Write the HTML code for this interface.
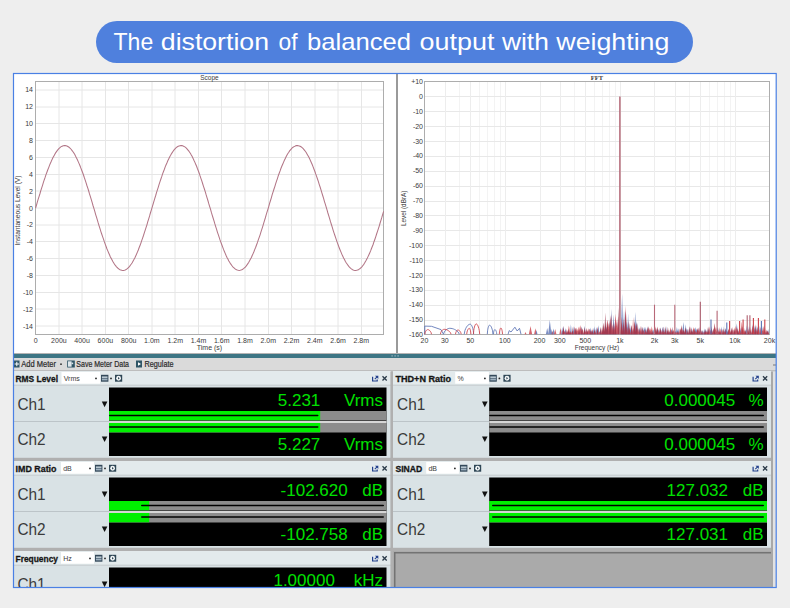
<!DOCTYPE html><html><head><meta charset="utf-8"><style>
html,body{margin:0;padding:0;width:790px;height:608px;overflow:hidden;background:#eeeeee;}
svg{display:block;font-family:"Liberation Sans", sans-serif;}
</style></head><body>
<svg width="790" height="608" viewBox="0 0 790 608">
<rect x="0" y="0" width="790" height="608" fill="#eeeeee"/>
<rect x="96" y="21" width="597" height="42" rx="21" ry="21" fill="#4f80dd"/>
<g font-size="24" fill="#ffffff">
<text x="113.5" y="50" textLength="39.7" lengthAdjust="spacingAndGlyphs">The</text>
<text x="160.8" y="50" textLength="108.2" lengthAdjust="spacingAndGlyphs">distortion</text>
<text x="278.5" y="50" textLength="19.0" lengthAdjust="spacingAndGlyphs">of</text>
<text x="307" y="50" textLength="104.0" lengthAdjust="spacingAndGlyphs">balanced</text>
<text x="419.6" y="50" textLength="74.8" lengthAdjust="spacingAndGlyphs">output</text>
<text x="502" y="50" textLength="46.8" lengthAdjust="spacingAndGlyphs">with</text>
<text x="556.3" y="50" textLength="113.1" lengthAdjust="spacingAndGlyphs">weighting</text>
</g>
<rect x="13" y="73" width="763" height="514" fill="#ffffff"/>
<path d="M35.5 326.0H383.5M35.5 309.0H383.5M35.5 292.5H383.5M35.5 275.5H383.5M35.5 258.5H383.5M35.5 241.5H383.5M35.5 225.0H383.5M35.5 208.0H383.5M35.5 191.0H383.5M35.5 174.5H383.5M35.5 157.5H383.5M35.5 140.5H383.5M35.5 123.5H383.5M35.5 107.0H383.5M35.5 90.0H383.5M59.0 81.5V334.5M82.0 81.5V334.5M105.5 81.5V334.5M128.5 81.5V334.5M152.0 81.5V334.5M175.0 81.5V334.5M198.5 81.5V334.5M221.5 81.5V334.5M245.0 81.5V334.5M268.5 81.5V334.5M291.5 81.5V334.5M315.0 81.5V334.5M338.0 81.5V334.5M361.5 81.5V334.5" stroke="#e6e6e6" stroke-width="1" fill="none"/>
<rect x="35.5" y="81.5" width="348.0" height="253.0" fill="none" stroke="#adadad" stroke-width="1"/>
<polyline points="35.6,208.0 36.5,205.1 37.3,202.1 38.2,199.2 39.1,196.3 40.0,193.5 40.8,190.6 41.7,187.8 42.6,185.1 43.4,182.4 44.3,179.7 45.2,177.2 46.0,174.6 46.9,172.2 47.8,169.8 48.7,167.6 49.5,165.4 50.4,163.3 51.3,161.3 52.1,159.4 53.0,157.6 53.9,155.9 54.7,154.4 55.6,152.9 56.5,151.6 57.4,150.4 58.2,149.4 59.1,148.4 60.0,147.6 60.8,146.9 61.7,146.4 62.6,146.0 63.4,145.7 64.3,145.6 65.2,145.6 66.1,145.8 66.9,146.0 67.8,146.5 68.7,147.0 69.5,147.7 70.4,148.5 71.3,149.5 72.1,150.6 73.0,151.8 73.9,153.1 74.8,154.6 75.6,156.2 76.5,157.9 77.4,159.7 78.2,161.6 79.1,163.6 80.0,165.7 80.8,167.9 81.7,170.2 82.6,172.5 83.5,175.0 84.3,177.5 85.2,180.1 86.1,182.8 86.9,185.5 87.8,188.2 88.7,191.0 89.5,193.9 90.4,196.7 91.3,199.6 92.2,202.6 93.0,205.5 93.9,208.4 94.8,211.3 95.6,214.3 96.5,217.2 97.4,220.1 98.2,222.9 99.1,225.8 100.0,228.6 100.8,231.3 101.7,234.0 102.6,236.6 103.5,239.2 104.3,241.7 105.2,244.1 106.1,246.5 106.9,248.7 107.8,250.9 108.7,253.0 109.6,255.0 110.4,256.9 111.3,258.6 112.2,260.3 113.0,261.8 113.9,263.3 114.8,264.6 115.6,265.7 116.5,266.8 117.4,267.7 118.2,268.5 119.1,269.1 120.0,269.7 120.9,270.0 121.7,270.3 122.6,270.4 123.5,270.4 124.3,270.2 125.2,269.9 126.1,269.5 127.0,268.9 127.8,268.2 128.7,267.3 129.6,266.4 130.4,265.2 131.3,264.0 132.2,262.7 133.0,261.2 133.9,259.6 134.8,257.9 135.7,256.1 136.5,254.2 137.4,252.1 138.3,250.0 139.1,247.8 140.0,245.5 140.9,243.1 141.7,240.6 142.6,238.1 143.5,235.5 144.3,232.9 145.2,230.1 146.1,227.4 147.0,224.6 147.8,221.7 148.7,218.8 149.6,215.9 150.4,213.0 151.3,210.1 152.2,207.2 153.1,204.2 153.9,201.3 154.8,198.4 155.7,195.5 156.5,192.7 157.4,189.8 158.3,187.1 159.1,184.3 160.0,181.6 160.9,179.0 161.8,176.4 162.6,173.9 163.5,171.5 164.4,169.2 165.2,166.9 166.1,164.8 167.0,162.7 167.8,160.7 168.7,158.9 169.6,157.1 170.5,155.5 171.3,154.0 172.2,152.6 173.1,151.3 173.9,150.1 174.8,149.1 175.7,148.2 176.5,147.4 177.4,146.8 178.3,146.3 179.1,145.9 180.0,145.7 180.9,145.6 181.8,145.6 182.6,145.8 183.5,146.2 184.4,146.6 185.2,147.2 186.1,147.9 187.0,148.8 187.8,149.8 188.7,150.9 189.6,152.2 190.5,153.5 191.3,155.0 192.2,156.6 193.1,158.4 193.9,160.2 194.8,162.1 195.7,164.2 196.6,166.3 197.4,168.5 198.3,170.8 199.2,173.2 200.0,175.7 200.9,178.3 201.8,180.9 202.6,183.5 203.5,186.3 204.4,189.0 205.3,191.8 206.1,194.7 207.0,197.6 207.9,200.5 208.7,203.4 209.6,206.3 210.5,209.2 211.3,212.2 212.2,215.1 213.1,218.0 214.0,220.9 214.8,223.7 215.7,226.6 216.6,229.3 217.4,232.1 218.3,234.7 219.2,237.4 220.0,239.9 220.9,242.4 221.8,244.8 222.7,247.1 223.5,249.4 224.4,251.5 225.3,253.6 226.1,255.5 227.0,257.4 227.9,259.1 228.7,260.7 229.6,262.2 230.5,263.6 231.4,264.9 232.2,266.0 233.1,267.1 234.0,267.9 234.8,268.7 235.7,269.3 236.6,269.8 237.4,270.1 238.3,270.3 239.2,270.4 240.1,270.3 240.9,270.1 241.8,269.8 242.7,269.3 243.5,268.7 244.4,267.9 245.3,267.1 246.1,266.1 247.0,264.9 247.9,263.6 248.8,262.3 249.6,260.8 250.5,259.1 251.4,257.4 252.2,255.5 253.1,253.6 254.0,251.5 254.8,249.4 255.7,247.2 256.6,244.8 257.5,242.4 258.3,239.9 259.2,237.4 260.1,234.8 260.9,232.1 261.8,229.4 262.7,226.6 263.5,223.8 264.4,220.9 265.3,218.0 266.1,215.1 267.0,212.2 267.9,209.3 268.8,206.3 269.6,203.4 270.5,200.5 271.4,197.6 272.2,194.7 273.1,191.9 274.0,189.0 274.9,186.3 275.7,183.6 276.6,180.9 277.5,178.3 278.3,175.7 279.2,173.3 280.1,170.9 280.9,168.5 281.8,166.3 282.7,164.2 283.6,162.1 284.4,160.2 285.3,158.4 286.2,156.6 287.0,155.0 287.9,153.5 288.8,152.2 289.6,150.9 290.5,149.8 291.4,148.8 292.2,147.9 293.1,147.2 294.0,146.6 294.9,146.2 295.7,145.8 296.6,145.6 297.5,145.6 298.3,145.7 299.2,145.9 300.1,146.3 301.0,146.8 301.8,147.4 302.7,148.2 303.6,149.1 304.4,150.1 305.3,151.3 306.2,152.5 307.0,153.9 307.9,155.5 308.8,157.1 309.7,158.9 310.5,160.7 311.4,162.7 312.3,164.8 313.1,166.9 314.0,169.2 314.9,171.5 315.7,173.9 316.6,176.4 317.5,179.0 318.4,181.6 319.2,184.3 320.1,187.0 321.0,189.8 321.8,192.6 322.7,195.5 323.6,198.4 324.4,201.3 325.3,204.2 326.2,207.1 327.1,210.1 327.9,213.0 328.8,215.9 329.7,218.8 330.5,221.7 331.4,224.5 332.3,227.3 333.1,230.1 334.0,232.8 334.9,235.5 335.8,238.1 336.6,240.6 337.5,243.1 338.4,245.5 339.2,247.8 340.1,250.0 341.0,252.1 341.8,254.1 342.7,256.1 343.6,257.9 344.5,259.6 345.3,261.2 346.2,262.7 347.1,264.0 347.9,265.2 348.8,266.3 349.7,267.3 350.5,268.2 351.4,268.9 352.3,269.5 353.2,269.9 354.0,270.2 354.9,270.4 355.8,270.4 356.6,270.3 357.5,270.0 358.4,269.7 359.2,269.1 360.1,268.5 361.0,267.7 361.9,266.8 362.7,265.7 363.6,264.6 364.5,263.3 365.3,261.8 366.2,260.3 367.1,258.6 367.9,256.9 368.8,255.0 369.7,253.0 370.6,250.9 371.4,248.8 372.3,246.5 373.2,244.2 374.0,241.7 374.9,239.2 375.8,236.6 376.6,234.0 377.5,231.3 378.4,228.6 379.3,225.8 380.1,223.0 381.0,220.1 381.9,217.2 382.7,214.3 383.6,211.4" fill="none" stroke="#b27586" stroke-width="1.05"/>
<g font-size="7" fill="#3a3a3a" text-anchor="end">
<text x="33" y="328.6">-14</text>
<text x="33" y="311.7">-12</text>
<text x="33" y="294.8">-10</text>
<text x="33" y="278.0">-8</text>
<text x="33" y="261.1">-6</text>
<text x="33" y="244.2">-4</text>
<text x="33" y="227.4">-2</text>
<text x="33" y="210.5">0</text>
<text x="33" y="193.6">2</text>
<text x="33" y="176.8">4</text>
<text x="33" y="159.9">6</text>
<text x="33" y="143.0">8</text>
<text x="33" y="126.2">10</text>
<text x="33" y="109.3">12</text>
<text x="33" y="92.4">14</text>
</g>
<g font-size="7" fill="#3a3a3a" text-anchor="middle">
<text x="35.6" y="343.1">0</text>
<text x="58.9" y="343.1">200u</text>
<text x="82.1" y="343.1">400u</text>
<text x="105.4" y="343.1">600u</text>
<text x="128.7" y="343.1">800u</text>
<text x="151.9" y="343.1">1.0m</text>
<text x="175.2" y="343.1">1.2m</text>
<text x="198.5" y="343.1">1.4m</text>
<text x="221.7" y="343.1">1.6m</text>
<text x="245.0" y="343.1">1.8m</text>
<text x="268.3" y="343.1">2.0m</text>
<text x="291.5" y="343.1">2.2m</text>
<text x="314.8" y="343.1">2.4m</text>
<text x="338.1" y="343.1">2.6m</text>
<text x="361.3" y="343.1">2.8m</text>
<text x="209.5" y="349.8">Time (s)</text>
<text x="209.5" y="80" font-size="6.5">Scope</text>
</g>
<text transform="translate(20.4 210.5) rotate(-90)" font-size="7" fill="#3a3a3a" text-anchor="middle" textLength="70" lengthAdjust="spacingAndGlyphs">Instantaneous Level (V)</text>
<rect x="396" y="74" width="2" height="279" fill="#9a9a9a"/>
<path d="M459.5 81.5V334.5M479.5 81.5V334.5M487.5 81.5V334.5M494.5 81.5V334.5M500.5 81.5V334.5M574.5 81.5V334.5M594.5 81.5V334.5M602.5 81.5V334.5M609.5 81.5V334.5M615.5 81.5V334.5M689.5 81.5V334.5M709.5 81.5V334.5M717.5 81.5V334.5M724.5 81.5V334.5M730.5 81.5V334.5" stroke="#f3f3f3" stroke-width="1" fill="none"/>
<path d="M424.5 96.5H769.5M424.5 111.5H769.5M424.5 126.5H769.5M424.5 141.5H769.5M424.5 156.5H769.5M424.5 171.5H769.5M424.5 186.5H769.5M424.5 201.5H769.5M424.5 215.5H769.5M424.5 230.5H769.5M424.5 245.5H769.5M424.5 260.5H769.5M424.5 275.5H769.5M424.5 290.5H769.5M424.5 305.5H769.5M424.5 320.5H769.5M424.5 334.5H769.5" stroke="#e8e8e8" stroke-width="1" fill="none"/>
<path d="M445.5 81.5V334.5M470.5 81.5V334.5M505.5 81.5V334.5M540.5 81.5V334.5M560.5 81.5V334.5M585.5 81.5V334.5M620.5 81.5V334.5M654.5 81.5V334.5M675.5 81.5V334.5M700.5 81.5V334.5M735.5 81.5V334.5" stroke="#ededed" stroke-width="1" fill="none"/>
<rect x="424.5" y="81.5" width="345.0" height="253.0" fill="none" stroke="#adadad" stroke-width="1"/>
<polyline points="424.8,334.2 424.8,326.1 431.5,326.3 441,329.6 443.5,334.2" fill="none" stroke="#5a72b4" stroke-width="1" opacity="0.85"/>
<polyline points="443.50,334.20 444.29,331.99 445.07,330.88 445.86,330.05 446.65,329.41 447.44,328.92 448.23,328.57 449.01,328.37 449.80,328.30 450.99,328.37 452.18,328.57 453.36,328.92 454.55,329.41 455.74,330.05 456.93,330.88 458.11,331.99 459.30,334.20" fill="none" stroke="#5a72b4" stroke-width="1" opacity="0.85"/>
<polyline points="424.80,334.20 425.16,332.47 425.52,331.61 425.89,330.97 426.25,330.46 426.61,330.08 426.98,329.81 427.34,329.65 427.70,329.60 428.18,329.65 428.65,329.81 429.12,330.08 429.60,330.46 430.07,330.97 430.55,331.61 431.02,332.47 431.50,334.20" fill="none" stroke="#cc4048" stroke-width="1" opacity="0.85"/>
<polyline points="440.40,334.20 440.88,332.36 441.35,331.45 441.82,330.76 442.30,330.22 442.77,329.81 443.25,329.53 443.72,329.36 444.20,329.30 445.06,329.36 445.93,329.53 446.79,329.81 447.65,330.22 448.51,330.76 449.38,331.45 450.24,332.36 451.10,334.20" fill="none" stroke="#cc4048" stroke-width="1" opacity="0.85"/>
<polyline points="455.50,334.20 455.81,332.62 456.12,331.84 456.44,331.25 456.75,330.79 457.06,330.44 457.38,330.19 457.69,330.05 458.00,330.00 458.40,330.05 458.80,330.19 459.20,330.44 459.60,330.79 460.00,331.25 460.40,331.84 460.80,332.62 461.20,334.20" fill="none" stroke="#cc4048" stroke-width="1" opacity="0.85"/>
<polyline points="464.20,334.20 464.95,330.45 465.70,328.58 466.45,327.17 467.20,326.08 467.95,325.25 468.70,324.66 469.45,324.32 470.20,324.20 470.64,324.32 471.07,324.66 471.51,325.25 471.95,326.08 472.39,327.17 472.82,328.58 473.26,330.45 473.70,334.20" fill="none" stroke="#5a72b4" stroke-width="1" opacity="0.85"/>
<polyline points="466.70,334.20 467.02,331.99 467.35,330.88 467.68,330.05 468.00,329.41 468.32,328.92 468.65,328.57 468.98,328.37 469.30,328.30 469.50,328.37 469.70,328.57 469.90,328.92 470.10,329.41 470.30,330.05 470.50,330.88 470.70,331.99 470.90,334.20" fill="none" stroke="#cc4048" stroke-width="1" opacity="0.85"/>
<polyline points="473.40,334.20 473.75,330.34 474.10,328.41 474.45,326.96 474.80,325.83 475.15,324.98 475.50,324.38 475.85,324.02 476.20,323.90 476.64,324.02 477.07,324.38 477.51,324.98 477.95,325.83 478.39,326.96 478.82,328.41 479.26,330.34 479.70,334.20" fill="none" stroke="#cc4048" stroke-width="1" opacity="0.85"/>
<polyline points="487.30,334.20 487.57,330.82 487.85,329.14 488.12,327.87 488.40,326.89 488.68,326.14 488.95,325.62 489.23,325.30 489.50,325.20 489.94,325.30 490.38,325.62 490.81,326.14 491.25,326.89 491.69,327.87 492.12,329.14 492.56,330.82 493.00,334.20" fill="none" stroke="#5a72b4" stroke-width="1" opacity="0.85"/>
<polyline points="493.30,334.20 493.50,332.47 493.70,331.61 493.90,330.97 494.10,330.46 494.30,330.08 494.50,329.81 494.70,329.65 494.90,329.60 495.14,329.65 495.38,329.81 495.61,330.08 495.85,330.46 496.09,330.97 496.32,331.61 496.56,332.47 496.80,334.20" fill="none" stroke="#5a72b4" stroke-width="1" opacity="0.85"/>
<polyline points="499.30,334.20 499.50,331.87 499.70,330.72 499.90,329.84 500.10,329.16 500.30,328.65 500.50,328.29 500.70,328.07 500.90,328.00 501.10,328.07 501.30,328.29 501.50,328.65 501.70,329.16 501.90,329.84 502.10,330.72 502.30,331.87 502.50,334.20" fill="none" stroke="#cc4048" stroke-width="1" opacity="0.85"/>
<polyline points="508.1,334.2 509.2,330.6 511,332 514.9,327.2 517.2,331 519.5,328.3 521,334.2" fill="none" stroke="#5a72b4" stroke-width="1" opacity="0.85"/>
<path d="M524.5 334.2L525.5 332.1L526.5 334.2" fill="#cc4048" opacity="0.8"/>
<path d="M528.9 334.2L530.5 326L532.1 334.2" fill="#cc4048" opacity="0.8"/>
<path d="M534.1 334.2L535.4 328.3L536.6999999999999 334.2" fill="#cc4048" opacity="0.8"/>
<path d="M535.5 334.2L536.5 330L537.5 334.2" fill="#5a72b4" opacity="0.8"/>
<path d="M545.9000000000001 334.2L547.2 328L548.5 334.2" fill="#5a72b4" opacity="0.8"/>
<path d="M548.1999999999999 334.2L549.8 320L551.4 334.2" fill="#5a72b4" opacity="0.8"/>
<path d="M550.7 334.2L551.7 329L552.7 334.2" fill="#5a72b4" opacity="0.8"/>
<path d="M551.5 334.2L552.5 331L553.5 334.2" fill="#cc4048" opacity="0.8"/>
<path d="M552.4 334.2L553.6 328.5L554.8000000000001 334.2" fill="#5a72b4" opacity="0.8"/>
<path d="M554.0 334.2L555.2 329L556.4000000000001 334.2" fill="#cc4048" opacity="0.8"/>
<path d="M559.3 334.2L560.5 328L561.7 334.2" fill="#cc4048" opacity="0.8"/>
<path d="M561.2 334.2L562.2 327.1L563.3 334.2ZM562.5 334.2L563.6 326.4L564.7 334.2ZM564.4 334.2L565.4 327.9L566.4 334.2ZM566.3 334.2L567.2 331.2L568.2 334.2ZM567.4 334.2L568.6 331.4L569.9 334.2ZM569.9 334.2L570.9 324.2L571.9 334.2ZM571.6 334.2L572.6 330.9L573.7 334.2ZM572.6 334.2L573.9 326.3L575.3 334.2ZM574.5 334.2L575.6 328.0L576.7 334.2ZM576.0 334.2L577.0 331.4L577.9 334.2ZM577.7 334.2L579.1 330.3L580.4 334.2ZM579.9 334.2L581.2 326.6L582.4 334.2ZM581.5 334.2L582.4 328.5L583.3 334.2ZM583.7 334.2L584.7 325.8L585.7 334.2ZM585.4 334.2L586.4 329.1L587.4 334.2ZM586.1 334.2L587.5 331.0L588.9 334.2ZM588.0 334.2L589.3 328.4L590.5 334.2ZM589.5 334.2L590.7 327.6L591.8 334.2ZM590.7 334.2L592.0 330.5L593.4 334.2ZM592.7 334.2L593.6 327.7L594.4 334.2ZM593.7 334.2L594.7 326.3L595.8 334.2ZM595.4 334.2L596.7 327.2L598.1 334.2ZM597.2 334.2L598.4 325.2L599.5 334.2ZM599.7 334.2L600.6 328.0L601.6 334.2ZM601.6 334.2L602.9 329.4L604.1 334.2ZM604.1 334.2L605.0 325.2L605.8 334.2ZM605.5 334.2L606.4 326.4L607.3 334.2ZM606.2 334.2L607.6 325.2L609.0 334.2ZM608.3 334.2L609.7 322.2L611.0 334.2ZM610.5 334.2L611.4 308.8L612.4 334.2ZM612.5 334.2L613.6 314.4L614.8 334.2ZM614.3 334.2L615.3 316.7L616.3 334.2ZM616.3 334.2L617.1 321.1L617.9 334.2ZM620.9 334.2L622.1 293.5L623.2 334.2ZM623.0 334.2L624.0 310.6L625.0 334.2ZM624.7 334.2L625.6 309.9L626.5 334.2ZM625.8 334.2L626.9 321.0L627.9 334.2ZM627.3 334.2L628.1 313.4L629.0 334.2ZM629.0 334.2L629.9 323.0L630.9 334.2ZM630.0 334.2L631.3 325.6L632.5 334.2ZM631.7 334.2L633.1 328.0L634.4 334.2ZM634.1 334.2L635.2 312.1L636.3 334.2ZM635.1 334.2L636.4 320.7L637.6 334.2ZM637.0 334.2L637.8 322.4L638.6 334.2ZM638.4 334.2L639.4 327.2L640.4 334.2ZM640.3 334.2L641.1 325.9L642.0 334.2ZM641.6 334.2L643.0 327.3L644.4 334.2ZM643.4 334.2L644.5 326.8L645.7 334.2ZM644.7 334.2L645.7 326.8L646.7 334.2ZM646.4 334.2L647.2 326.0L648.1 334.2ZM647.4 334.2L648.4 327.0L649.5 334.2ZM649.3 334.2L650.3 331.8L651.4 334.2ZM651.2 334.2L652.1 329.6L653.0 334.2ZM652.0 334.2L653.3 329.3L654.5 334.2ZM654.5 334.2L655.4 327.6L656.4 334.2ZM655.7 334.2L657.0 329.0L658.4 334.2ZM657.0 334.2L658.2 329.0L659.5 334.2ZM659.2 334.2L660.5 327.3L661.8 334.2ZM661.3 334.2L662.5 326.8L663.7 334.2ZM662.7 334.2L663.9 326.4L665.1 334.2ZM665.3 334.2L666.1 326.2L666.9 334.2ZM666.7 334.2L667.6 330.0L668.5 334.2ZM668.0 334.2L669.4 331.4L670.7 334.2ZM670.1 334.2L671.4 329.1L672.8 334.2ZM672.3 334.2L673.5 330.7L674.6 334.2ZM674.5 334.2L675.4 330.3L676.4 334.2ZM675.7 334.2L676.9 326.9L678.1 334.2ZM677.2 334.2L678.2 328.3L679.3 334.2ZM679.4 334.2L680.6 329.1L681.7 334.2ZM681.1 334.2L682.0 330.9L683.0 334.2ZM682.1 334.2L683.4 322.0L684.7 334.2ZM684.6 334.2L685.7 324.3L686.8 334.2ZM685.9 334.2L686.8 328.3L687.8 334.2ZM687.0 334.2L687.9 328.7L688.9 334.2ZM688.8 334.2L689.6 326.6L690.5 334.2ZM690.9 334.2L691.8 327.0L692.6 334.2ZM692.2 334.2L693.1 329.5L694.0 334.2ZM693.9 334.2L695.3 326.9L696.6 334.2ZM695.0 334.2L696.4 328.4L697.7 334.2ZM697.6 334.2L698.4 327.4L699.3 334.2ZM699.5 334.2L700.6 328.3L701.7 334.2ZM701.7 334.2L702.7 329.9L703.8 334.2ZM703.4 334.2L704.2 328.2L705.1 334.2ZM704.5 334.2L705.4 328.8L706.3 334.2ZM705.8 334.2L706.9 330.1L708.0 334.2ZM708.0 334.2L708.9 328.0L709.7 334.2ZM710.0 334.2L711.2 328.7L712.4 334.2ZM711.9 334.2L713.2 328.8L714.5 334.2ZM713.5 334.2L714.6 331.7L715.7 334.2ZM715.4 334.2L716.5 330.9L717.6 334.2ZM716.5 334.2L717.8 326.8L719.2 334.2ZM718.5 334.2L719.8 330.6L721.1 334.2ZM720.6 334.2L721.6 326.5L722.6 334.2ZM723.1 334.2L723.9 326.3L724.7 334.2ZM724.2 334.2L725.5 328.2L726.7 334.2ZM726.3 334.2L727.4 330.9L728.5 334.2ZM728.5 334.2L729.7 330.7L730.8 334.2ZM730.8 334.2L731.8 327.5L732.8 334.2ZM731.9 334.2L733.0 329.5L734.1 334.2ZM734.3 334.2L735.1 328.6L736.0 334.2ZM735.6 334.2L736.8 323.2L738.0 334.2ZM737.1 334.2L738.2 330.5L739.3 334.2ZM739.5 334.2L740.4 327.5L741.4 334.2ZM740.8 334.2L742.1 326.5L743.3 334.2ZM743.0 334.2L744.0 329.4L745.1 334.2ZM744.7 334.2L745.8 329.3L746.8 334.2ZM745.6 334.2L746.9 325.2L748.2 334.2ZM747.9 334.2L749.0 325.9L750.0 334.2ZM749.4 334.2L750.6 331.2L751.7 334.2ZM751.5 334.2L752.4 323.9L753.4 334.2ZM753.6 334.2L754.5 325.3L755.3 334.2ZM755.0 334.2L756.1 325.2L757.1 334.2ZM756.5 334.2L757.7 326.6L758.9 334.2ZM758.9 334.2L759.9 325.7L760.8 334.2ZM761.1 334.2L762.0 325.4L762.9 334.2ZM763.2 334.2L764.2 324.7L765.2 334.2ZM765.2 334.2L766.1 330.2L767.1 334.2ZM767.2 334.2L768.1 329.1L769.0 334.2Z" fill="#5a72b4" opacity="0.8"/>
<path d="M562.0 334.2L563.4 328.8L564.8 334.2ZM563.8 334.2L564.8 330.8L565.8 334.2ZM566.0 334.2L567.0 330.1L568.0 334.2ZM567.6 334.2L568.9 325.5L570.3 334.2ZM569.8 334.2L570.9 331.3L572.1 334.2ZM571.3 334.2L572.4 330.4L573.6 334.2ZM573.6 334.2L574.8 326.6L575.9 334.2ZM575.4 334.2L576.8 327.6L578.1 334.2ZM577.1 334.2L578.3 326.5L579.5 334.2ZM578.6 334.2L579.6 326.2L580.5 334.2ZM579.4 334.2L580.7 325.0L582.1 334.2ZM581.3 334.2L582.5 328.2L583.7 334.2ZM583.6 334.2L584.8 329.6L585.9 334.2ZM585.2 334.2L586.3 327.7L587.3 334.2ZM586.8 334.2L588.2 328.2L589.6 334.2ZM588.4 334.2L589.8 328.8L591.2 334.2ZM591.3 334.2L592.1 328.3L593.0 334.2ZM593.4 334.2L594.4 330.5L595.4 334.2ZM595.1 334.2L595.9 329.3L596.7 334.2ZM596.8 334.2L597.7 326.4L598.6 334.2ZM598.4 334.2L599.7 331.3L601.0 334.2ZM600.9 334.2L602.0 327.3L603.1 334.2ZM602.6 334.2L603.8 325.0L605.0 334.2ZM604.5 334.2L605.5 322.3L606.5 334.2ZM606.3 334.2L607.6 319.4L609.0 334.2ZM607.8 334.2L608.8 322.5L609.8 334.2ZM609.1 334.2L610.1 319.0L611.0 334.2ZM610.4 334.2L611.2 314.0L612.1 334.2ZM611.7 334.2L612.6 323.7L613.5 334.2ZM613.2 334.2L614.1 325.6L615.0 334.2ZM614.3 334.2L615.6 313.7L616.9 334.2ZM616.0 334.2L616.8 319.4L617.6 334.2ZM616.9 334.2L618.1 316.4L619.4 334.2ZM620.7 334.2L621.7 316.6L622.6 334.2ZM622.2 334.2L623.1 324.9L624.0 334.2ZM624.3 334.2L625.4 305.6L626.5 334.2ZM626.4 334.2L627.3 326.5L628.1 334.2ZM628.0 334.2L629.4 327.7L630.7 334.2ZM630.7 334.2L631.6 325.0L632.4 334.2ZM632.3 334.2L633.1 317.1L633.9 334.2ZM633.4 334.2L634.7 321.1L636.0 334.2ZM635.6 334.2L637.0 323.5L638.3 334.2ZM637.8 334.2L638.7 328.2L639.6 334.2ZM639.6 334.2L640.9 326.1L642.2 334.2ZM642.0 334.2L643.3 329.8L644.6 334.2ZM644.5 334.2L645.4 329.3L646.3 334.2ZM645.7 334.2L646.7 331.6L647.6 334.2ZM647.3 334.2L648.5 326.1L649.6 334.2ZM649.4 334.2L650.7 328.3L651.9 334.2ZM650.5 334.2L651.8 326.2L653.1 334.2ZM653.1 334.2L654.0 331.3L654.9 334.2ZM654.7 334.2L655.7 326.3L656.8 334.2ZM656.3 334.2L657.6 327.5L659.0 334.2ZM658.7 334.2L660.0 327.6L661.2 334.2ZM661.0 334.2L661.9 330.0L662.9 334.2ZM662.3 334.2L663.1 326.4L663.9 334.2ZM663.6 334.2L664.6 331.3L665.6 334.2ZM664.9 334.2L665.9 329.1L666.9 334.2ZM666.8 334.2L668.1 330.1L669.4 334.2ZM669.1 334.2L670.4 327.2L671.8 334.2ZM671.3 334.2L672.2 330.6L673.1 334.2ZM672.3 334.2L673.7 329.4L675.1 334.2ZM674.6 334.2L675.9 331.2L677.2 334.2ZM676.6 334.2L677.6 331.5L678.7 334.2ZM678.7 334.2L679.9 328.4L681.1 334.2ZM679.9 334.2L681.1 327.8L682.3 334.2ZM681.8 334.2L682.6 328.0L683.5 334.2ZM683.0 334.2L683.9 329.2L684.9 334.2ZM684.8 334.2L685.7 328.1L686.5 334.2ZM687.0 334.2L688.0 328.4L688.9 334.2ZM688.9 334.2L690.0 326.3L691.0 334.2ZM690.4 334.2L691.8 330.9L693.1 334.2ZM692.3 334.2L693.6 327.0L694.9 334.2ZM694.5 334.2L695.7 330.6L696.9 334.2ZM696.4 334.2L697.6 328.3L698.7 334.2ZM697.7 334.2L699.1 327.1L700.5 334.2ZM700.1 334.2L701.0 330.5L701.9 334.2ZM702.1 334.2L703.0 331.6L704.0 334.2ZM703.9 334.2L705.1 331.1L706.4 334.2ZM705.4 334.2L706.5 331.1L707.7 334.2ZM706.7 334.2L708.0 331.8L709.3 334.2ZM708.4 334.2L709.3 326.3L710.2 334.2ZM709.6 334.2L710.5 329.7L711.4 334.2ZM710.7 334.2L711.7 328.9L712.8 334.2ZM712.5 334.2L713.4 327.7L714.4 334.2ZM713.9 334.2L714.8 322.9L715.6 334.2ZM714.6 334.2L715.9 327.0L717.3 334.2ZM716.6 334.2L717.9 329.9L719.1 334.2ZM718.4 334.2L719.3 327.1L720.1 334.2ZM719.5 334.2L720.8 328.6L722.1 334.2ZM721.9 334.2L723.1 328.9L724.3 334.2ZM723.6 334.2L724.9 331.0L726.3 334.2ZM725.4 334.2L726.6 329.6L727.8 334.2ZM727.6 334.2L728.8 329.6L730.0 334.2ZM729.8 334.2L730.9 330.9L732.1 334.2ZM730.8 334.2L732.1 327.0L733.4 334.2ZM732.9 334.2L733.8 329.1L734.7 334.2ZM734.0 334.2L735.2 325.7L736.4 334.2ZM735.7 334.2L736.7 326.4L737.7 334.2ZM737.0 334.2L737.9 327.8L738.8 334.2ZM738.6 334.2L739.5 330.7L740.5 334.2ZM740.5 334.2L741.8 321.5L743.1 334.2ZM742.9 334.2L744.0 327.4L745.0 334.2ZM743.8 334.2L745.1 330.2L746.4 334.2ZM746.4 334.2L747.3 330.4L748.1 334.2ZM747.8 334.2L748.7 328.7L749.6 334.2ZM749.5 334.2L750.6 329.5L751.7 334.2ZM751.3 334.2L752.3 325.6L753.2 334.2ZM752.3 334.2L753.5 329.1L754.8 334.2ZM754.3 334.2L755.1 326.1L755.9 334.2ZM755.7 334.2L756.6 328.4L757.5 334.2ZM756.6 334.2L758.0 330.1L759.3 334.2ZM759.2 334.2L760.3 327.1L761.4 334.2ZM760.9 334.2L762.1 330.4L763.4 334.2ZM762.0 334.2L763.2 326.0L764.5 334.2ZM764.1 334.2L765.0 327.8L765.9 334.2ZM765.9 334.2L766.7 329.5L767.6 334.2ZM767.1 334.2L768.0 330.9L769.0 334.2Z" fill="#cc4048" opacity="0.8"/>
<path d="M562.5 334.2L563.4 325.4L564.2 334.2ZM565.3 334.2L566.1 328.9L567.0 334.2ZM567.2 334.2L568.2 328.7L569.3 334.2ZM569.0 334.2L570.1 331.1L571.1 334.2ZM571.9 334.2L572.7 326.8L573.5 334.2ZM574.6 334.2L575.8 327.8L576.9 334.2ZM578.1 334.2L579.1 329.3L580.1 334.2ZM581.0 334.2L581.8 327.3L582.7 334.2ZM583.3 334.2L584.4 326.9L585.4 334.2ZM586.2 334.2L587.2 330.4L588.2 334.2ZM589.5 334.2L590.3 330.4L591.2 334.2ZM590.9 334.2L592.2 329.8L593.5 334.2ZM593.5 334.2L594.5 329.2L595.5 334.2ZM596.7 334.2L597.6 328.0L598.4 334.2ZM599.7 334.2L600.6 326.5L601.5 334.2ZM601.9 334.2L603.3 322.4L604.6 334.2ZM604.3 334.2L605.3 312.5L606.4 334.2ZM605.8 334.2L607.2 319.9L608.6 334.2ZM608.9 334.2L610.3 315.3L611.7 334.2ZM612.2 334.2L613.3 321.9L614.3 334.2ZM614.5 334.2L615.4 325.5L616.3 334.2ZM617.8 334.2L618.7 306.9L619.5 334.2ZM620.0 334.2L621.3 322.3L622.6 334.2ZM622.5 334.2L623.5 318.3L624.6 334.2ZM624.5 334.2L625.9 311.3L627.2 334.2ZM627.5 334.2L628.8 321.1L630.1 334.2ZM630.5 334.2L631.6 324.9L632.6 334.2ZM633.3 334.2L634.6 322.1L635.9 334.2ZM635.5 334.2L636.6 322.4L637.7 334.2ZM638.9 334.2L639.7 328.0L640.6 334.2ZM641.3 334.2L642.4 326.7L643.6 334.2ZM644.2 334.2L645.0 328.7L645.8 334.2ZM646.1 334.2L647.4 327.2L648.7 334.2ZM648.5 334.2L649.5 327.8L650.6 334.2ZM650.9 334.2L652.0 331.4L653.1 334.2ZM653.8 334.2L654.9 328.7L656.0 334.2ZM655.9 334.2L657.2 326.5L658.5 334.2ZM659.2 334.2L660.4 328.9L661.6 334.2ZM662.1 334.2L663.1 330.2L664.1 334.2ZM664.4 334.2L665.4 326.2L666.4 334.2ZM666.7 334.2L667.9 327.0L669.0 334.2ZM669.2 334.2L670.1 330.2L671.0 334.2ZM671.4 334.2L672.3 326.8L673.2 334.2ZM673.8 334.2L674.9 331.2L675.9 334.2ZM677.1 334.2L678.0 330.4L679.0 334.2ZM680.1 334.2L681.4 324.9L682.7 334.2ZM682.3 334.2L683.6 329.7L684.9 334.2ZM684.4 334.2L685.6 327.5L686.8 334.2ZM686.7 334.2L687.9 331.4L689.0 334.2ZM689.0 334.2L689.9 326.1L690.8 334.2ZM690.5 334.2L691.8 328.3L693.0 334.2ZM693.0 334.2L694.3 327.7L695.6 334.2ZM696.4 334.2L697.4 328.3L698.4 334.2ZM698.5 334.2L699.4 331.3L700.4 334.2ZM700.8 334.2L701.9 330.0L703.0 334.2ZM703.9 334.2L705.1 329.3L706.3 334.2ZM706.8 334.2L708.1 326.4L709.4 334.2ZM710.4 334.2L711.5 326.0L712.5 334.2ZM713.5 334.2L714.5 323.2L715.5 334.2ZM716.5 334.2L717.4 327.4L718.4 334.2ZM718.8 334.2L719.9 331.5L721.0 334.2ZM722.1 334.2L723.0 328.4L724.0 334.2ZM724.4 334.2L725.3 327.9L726.2 334.2ZM727.3 334.2L728.4 328.5L729.6 334.2ZM729.9 334.2L731.2 329.3L732.6 334.2ZM733.8 334.2L734.6 328.0L735.4 334.2ZM736.9 334.2L737.7 328.4L738.6 334.2ZM738.4 334.2L739.6 328.4L740.8 334.2ZM741.6 334.2L742.5 326.3L743.4 334.2ZM744.2 334.2L745.3 330.8L746.4 334.2ZM746.9 334.2L748.0 330.4L749.1 334.2ZM748.8 334.2L750.0 326.5L751.2 334.2ZM752.1 334.2L753.0 326.8L753.9 334.2ZM754.4 334.2L755.4 324.1L756.3 334.2ZM757.0 334.2L757.9 327.2L758.9 334.2ZM760.1 334.2L761.3 331.1L762.4 334.2ZM763.2 334.2L764.5 330.1L765.9 334.2ZM766.0 334.2L767.4 330.4L768.8 334.2Z" fill="#9a3048" opacity="0.75"/>
<path d="M654.5 334.0V304.7" stroke="#b86878" stroke-width="1.1"/>
<path d="M674.8 334.0V304.7" stroke="#b86878" stroke-width="1.1"/>
<path d="M700.3 334.0V301.8" stroke="#a85868" stroke-width="1.1"/>
<path d="M717.1 334.0V310.7" stroke="#b86878" stroke-width="1.1"/>
<path d="M711.0 334.0V319.6" stroke="#5a72b4" stroke-width="1.1"/>
<path d="M726.8 334.0V322.6" stroke="#5a72b4" stroke-width="1.1"/>
<path d="M729.6 334.0V321.1" stroke="#cc4048" stroke-width="1.1"/>
<path d="M739.6 334.0V321.1" stroke="#cc4048" stroke-width="1.1"/>
<path d="M743.1 334.0V319.6" stroke="#cc4048" stroke-width="1.1"/>
<path d="M747.2 334.0V315.2" stroke="#b06070" stroke-width="1.1"/>
<path d="M749.9 334.0V315.2" stroke="#b06070" stroke-width="1.1"/>
<path d="M753.4 334.0V318.1" stroke="#cc4048" stroke-width="1.1"/>
<path d="M758.4 334.0V318.1" stroke="#cc4048" stroke-width="1.1"/>
<path d="M761.4 334.0V321.1" stroke="#5a72b4" stroke-width="1.1"/>
<path d="M764.8 334.0V319.6" stroke="#cc4048" stroke-width="1.1"/>
<path d="M619.9 334.0V96.4" stroke="#b06070" stroke-width="1.4"/>
<g font-size="7" fill="#3a3a3a" text-anchor="end">
<text x="423" y="84.0">+10</text>
<text x="423" y="98.9">0</text>
<text x="423" y="113.8">-10</text>
<text x="423" y="128.6">-20</text>
<text x="423" y="143.5">-30</text>
<text x="423" y="158.4">-40</text>
<text x="423" y="173.3">-50</text>
<text x="423" y="188.2">-60</text>
<text x="423" y="203.1">-70</text>
<text x="423" y="217.9">-80</text>
<text x="423" y="232.8">-90</text>
<text x="423" y="247.7">-100</text>
<text x="423" y="262.6">-110</text>
<text x="423" y="277.5">-120</text>
<text x="423" y="292.4">-130</text>
<text x="423" y="307.2">-140</text>
<text x="423" y="322.1">-150</text>
<text x="423" y="337.0">-160</text>
</g>
<g font-size="7" fill="#3a3a3a" text-anchor="middle">
<text x="424.5" y="343.1">20</text>
<text x="444.8" y="343.1">30</text>
<text x="470.3" y="343.1">50</text>
<text x="504.9" y="343.1">100</text>
<text x="539.5" y="343.1">200</text>
<text x="559.8" y="343.1">300</text>
<text x="585.3" y="343.1">500</text>
<text x="619.9" y="343.1">1k</text>
<text x="654.5" y="343.1">2k</text>
<text x="674.8" y="343.1">3k</text>
<text x="700.3" y="343.1">5k</text>
<text x="734.9" y="343.1">10k</text>
<text x="769.5" y="343.1">20k</text>
<text x="597" y="349.8" textLength="44.5" lengthAdjust="spacingAndGlyphs">Frequency (Hz)</text>
<text x="597" y="80" font-size="6.5" font-family="Liberation Serif, serif" font-weight="bold">FFT</text>
</g>
<text transform="translate(406 208.3) rotate(-90)" font-size="7" fill="#3a3a3a" text-anchor="middle" textLength="35.5" lengthAdjust="spacingAndGlyphs">Level (dBrA)</text>
<rect x="14" y="353" width="762" height="1" fill="#b4b4b4"/>
<rect x="14" y="354" width="762" height="4" fill="#3d7584"/>
<rect x="14" y="358" width="762" height="12" fill="#dadada"/>
<rect x="14" y="370" width="762" height="1.5" fill="#bdbdbd"/>
<g fill="#a9c3cc"><rect x="391.5" y="355.3" width="1.2" height="1.2"/><rect x="394.5" y="355.3" width="1.2" height="1.2"/><rect x="397.5" y="355.3" width="1.2" height="1.2"/></g>
<rect x="773" y="364.5" width="3" height="1" fill="#777"/>
<g font-size="8.6" fill="#2a2a2a" stroke="#2a2a2a" stroke-width="0.2">
<text x="21.3" y="366.6" textLength="34.7" lengthAdjust="spacingAndGlyphs">Add Meter</text>
<text x="76.3" y="366.6" textLength="52.7" lengthAdjust="spacingAndGlyphs">Save Meter Data</text>
<text x="144.5" y="366.6" textLength="29" lengthAdjust="spacingAndGlyphs">Regulate</text>
</g>
<circle cx="61" cy="364.2" r="0.9" fill="#333"/>
<rect x="14" y="360.5" width="5.5" height="7" fill="#2f5566"/><path d="M16.8 361.8v4.4M14.6 364h4.4" stroke="#fff" stroke-width="1"/>
<rect x="67.2" y="360.5" width="7.6" height="7" fill="#2f5566"/><rect x="68" y="361.3" width="3.6" height="5.4" fill="#dfe6ea"/><rect x="71.6" y="362.6" width="1.6" height="1.6" fill="#dfe6ea"/>
<rect x="136" y="360.5" width="6" height="7" fill="#2f5566"/><path d="M138 362.2L141 364L138 365.8Z" fill="#fff"/>
<rect x="14" y="371.5" width="762" height="215.5" fill="#b0b0b0"/>
<rect x="14" y="371" width="377" height="14" fill="#e3eaec"/>
<rect x="14" y="384.5" width="377" height="1" fill="#cdd5d8"/>
<text x="15.5" y="382.3" font-size="9.5" font-weight="bold" fill="#151515" stroke="#151515" stroke-width="0.3" textLength="42.5" lengthAdjust="spacingAndGlyphs">RMS Level</text>
<rect x="61.5" y="372" width="38.5" height="11.7" fill="#ffffff"/>
<text x="63.7" y="380.8" font-size="7" fill="#3a3a3a">Vrms</text>
<circle cx="96.0" cy="378.4" r="0.9" fill="#222"/>
<rect x="101" y="374.8" width="7.4" height="6.9" fill="#34495a"/><rect x="101.9" y="376.4" width="5.6" height="1.7" fill="#b9c8d2"/><rect x="101.9" y="378.6" width="5.6" height="1.8" fill="#9fb2c0"/>
<circle cx="111" cy="378.4" r="0.9" fill="#222"/>
<rect x="115" y="374.8" width="7.2" height="6.9" fill="#2f4756"/><circle cx="118.6" cy="378.25" r="2.4" fill="#f2f5f6"/><path d="M118 377.1l1.8 1.15-1.8 1.15z" fill="#2f4756"/>
<path d="M372.6 376.8v4.2h4.6v-1.4" stroke="#22408c" stroke-width="1.2" fill="none"/><path d="M374.8 379.2l2.5-2.5" stroke="#22408c" stroke-width="1.1"/><path d="M375 375.8h3.3v3.3z" fill="#22408c"/>
<path d="M382.5 376.3l4.2 4.2m0-4.2l-4.2 4.2" stroke="#2a3a48" stroke-width="1.3"/>
<rect x="14" y="385.5" width="377" height="72.5" fill="#d9e2e5"/>
<rect x="14" y="421" width="95" height="1" fill="#bcc4c8"/>
<rect x="109" y="387.5" width="277.5" height="68.5" fill="#000"/>
<text x="17.4" y="410.2" font-size="16.5" fill="#3a3a3a" textLength="28.2" lengthAdjust="spacingAndGlyphs">Ch1</text>
<text x="17.4" y="445.2" font-size="16.5" fill="#3a3a3a" textLength="28.2" lengthAdjust="spacingAndGlyphs">Ch2</text>
<path d="M101.8 401.6h5.6l-2.8 5.6z" fill="#111"/>
<path d="M101.8 436.4h5.6l-2.8 5.6z" fill="#111"/>
<rect x="109" y="411" width="277.5" height="9.5" fill="#8c8c8c"/>
<rect x="109" y="411" width="211.2" height="9.3" fill="#00f000"/>
<rect x="109.0" y="414.65000000000003" width="209.5" height="1.7" rx="0.8" fill="#000"/>
<rect x="109" y="423" width="277.5" height="9.5" fill="#8c8c8c"/>
<rect x="109" y="423" width="211.2" height="9.3" fill="#00f000"/>
<rect x="109.0" y="426.15000000000003" width="209.5" height="1.7" rx="0.8" fill="#000"/>
<rect x="109" y="421" width="277.5" height="2" fill="#d6d6d6"/>
<text x="320.3" y="405.5" font-size="17" fill="#00e000" text-anchor="end">5.231</text>
<text x="383.0" y="405.5" font-size="17" fill="#00e000" text-anchor="end">Vrms</text>
<text x="320.3" y="449.5" font-size="17" fill="#00e000" text-anchor="end">5.227</text>
<text x="383.0" y="449.5" font-size="17" fill="#00e000" text-anchor="end">Vrms</text>
<rect x="14" y="457.8" width="377" height="3.6" fill="#b0b0b0"/>
<rect x="393" y="371" width="378.5" height="14" fill="#e3eaec"/>
<rect x="393" y="384.5" width="378.5" height="1" fill="#cdd5d8"/>
<text x="395.48" y="382.3" font-size="9.5" font-weight="bold" fill="#151515" stroke="#151515" stroke-width="0.3" textLength="55.7" lengthAdjust="spacingAndGlyphs">THD+N Ratio</text>
<rect x="455.2" y="372" width="33.7" height="11.7" fill="#ffffff"/>
<text x="457.4" y="380.8" font-size="7" fill="#3a3a3a">%</text>
<circle cx="484.9" cy="378.4" r="0.9" fill="#222"/>
<rect x="489.4" y="374.8" width="7.4" height="6.9" fill="#34495a"/><rect x="490.29999999999995" y="376.4" width="5.6" height="1.7" fill="#b9c8d2"/><rect x="490.29999999999995" y="378.6" width="5.6" height="1.8" fill="#9fb2c0"/>
<circle cx="499.4" cy="378.4" r="0.9" fill="#222"/>
<rect x="503.4" y="374.8" width="7.2" height="6.9" fill="#2f4756"/><circle cx="507.0" cy="378.25" r="2.4" fill="#f2f5f6"/><path d="M506.4 377.1l1.8 1.15-1.8 1.15z" fill="#2f4756"/>
<path d="M753.1 376.8v4.2h4.6v-1.4" stroke="#22408c" stroke-width="1.2" fill="none"/><path d="M755.3 379.2l2.5-2.5" stroke="#22408c" stroke-width="1.1"/><path d="M755.5 375.8h3.3v3.3z" fill="#22408c"/>
<path d="M763.0 376.3l4.2 4.2m0-4.2l-4.2 4.2" stroke="#2a3a48" stroke-width="1.3"/>
<rect x="393" y="385.5" width="378.5" height="72.5" fill="#d9e2e5"/>
<rect x="393" y="421" width="96.2" height="1" fill="#bcc4c8"/>
<rect x="489.2" y="387.5" width="277.8" height="68.5" fill="#000"/>
<text x="397.09999999999997" y="410.2" font-size="16.5" fill="#3a3a3a" textLength="28.2" lengthAdjust="spacingAndGlyphs">Ch1</text>
<text x="397.09999999999997" y="445.2" font-size="16.5" fill="#3a3a3a" textLength="28.2" lengthAdjust="spacingAndGlyphs">Ch2</text>
<path d="M482.0 401.6h5.6l-2.8 5.6z" fill="#111"/>
<path d="M482.0 436.4h5.6l-2.8 5.6z" fill="#111"/>
<rect x="489.2" y="411" width="277.8" height="9.5" fill="#8c8c8c"/>
<rect x="489.2" y="414.65000000000003" width="274.8" height="1.7" rx="0.8" fill="#000"/>
<rect x="489.2" y="423" width="277.8" height="9.5" fill="#8c8c8c"/>
<rect x="489.2" y="426.15000000000003" width="274.8" height="1.7" rx="0.8" fill="#000"/>
<rect x="489.2" y="421" width="277.8" height="2" fill="#d6d6d6"/>
<text x="735.2" y="405.5" font-size="17" fill="#00e000" text-anchor="end">0.000045</text>
<text x="763.5" y="405.5" font-size="17" fill="#00e000" text-anchor="end">%</text>
<text x="735.2" y="449.5" font-size="17" fill="#00e000" text-anchor="end">0.000045</text>
<text x="763.5" y="449.5" font-size="17" fill="#00e000" text-anchor="end">%</text>
<rect x="393" y="457.8" width="378.5" height="3.6" fill="#b0b0b0"/>
<rect x="14" y="461" width="377" height="14" fill="#e3eaec"/>
<rect x="14" y="474.5" width="377" height="1" fill="#cdd5d8"/>
<text x="15.5" y="472.3" font-size="9.5" font-weight="bold" fill="#151515" stroke="#151515" stroke-width="0.3" textLength="41" lengthAdjust="spacingAndGlyphs">IMD Ratio</text>
<rect x="61" y="462" width="33" height="11.7" fill="#ffffff"/>
<text x="63.2" y="470.8" font-size="7" fill="#3a3a3a">dB</text>
<circle cx="90" cy="468.4" r="0.9" fill="#222"/>
<rect x="95" y="464.8" width="7.4" height="6.9" fill="#34495a"/><rect x="95.9" y="466.4" width="5.6" height="1.7" fill="#b9c8d2"/><rect x="95.9" y="468.6" width="5.6" height="1.8" fill="#9fb2c0"/>
<circle cx="105" cy="468.4" r="0.9" fill="#222"/>
<rect x="109" y="464.8" width="7.2" height="6.9" fill="#2f4756"/><circle cx="112.6" cy="468.25" r="2.4" fill="#f2f5f6"/><path d="M112 467.1l1.8 1.15-1.8 1.15z" fill="#2f4756"/>
<path d="M372.6 466.8v4.2h4.6v-1.4" stroke="#22408c" stroke-width="1.2" fill="none"/><path d="M374.8 469.2l2.5-2.5" stroke="#22408c" stroke-width="1.1"/><path d="M375 465.8h3.3v3.3z" fill="#22408c"/>
<path d="M382.5 466.3l4.2 4.2m0-4.2l-4.2 4.2" stroke="#2a3a48" stroke-width="1.3"/>
<rect x="14" y="475.5" width="377" height="72.5" fill="#d9e2e5"/>
<rect x="14" y="511" width="95" height="1" fill="#bcc4c8"/>
<rect x="109" y="477.5" width="277.5" height="68.5" fill="#000"/>
<text x="17.4" y="500.2" font-size="16.5" fill="#3a3a3a" textLength="28.2" lengthAdjust="spacingAndGlyphs">Ch1</text>
<text x="17.4" y="535.2" font-size="16.5" fill="#3a3a3a" textLength="28.2" lengthAdjust="spacingAndGlyphs">Ch2</text>
<path d="M101.8 491.6h5.6l-2.8 5.6z" fill="#111"/>
<path d="M101.8 526.4h5.6l-2.8 5.6z" fill="#111"/>
<rect x="109" y="501" width="277.5" height="9.5" fill="#8c8c8c"/>
<rect x="109" y="501" width="40.2" height="9.3" fill="#00f000"/>
<rect x="141.0" y="504.65000000000003" width="243.0" height="1.7" rx="0.8" fill="#000"/>
<rect x="109" y="513" width="277.5" height="9.5" fill="#8c8c8c"/>
<rect x="109" y="513" width="40.2" height="9.3" fill="#00f000"/>
<rect x="141.0" y="516.15" width="243.0" height="1.7" rx="0.8" fill="#000"/>
<rect x="109" y="511" width="277.5" height="2" fill="#d6d6d6"/>
<text x="347.7" y="495.5" font-size="17" fill="#00e000" text-anchor="end">-102.620</text>
<text x="383.0" y="495.5" font-size="17" fill="#00e000" text-anchor="end">dB</text>
<text x="347.7" y="539.5" font-size="17" fill="#00e000" text-anchor="end">-102.758</text>
<text x="383.0" y="539.5" font-size="17" fill="#00e000" text-anchor="end">dB</text>
<rect x="14" y="547.8" width="377" height="3.6" fill="#b0b0b0"/>
<rect x="393" y="461" width="378.5" height="14" fill="#e3eaec"/>
<rect x="393" y="474.5" width="378.5" height="1" fill="#cdd5d8"/>
<text x="395.48" y="472.3" font-size="9.5" font-weight="bold" fill="#151515" stroke="#151515" stroke-width="0.3" textLength="26.8" lengthAdjust="spacingAndGlyphs">SINAD</text>
<rect x="426.2" y="462" width="32.7" height="11.7" fill="#ffffff"/>
<text x="428.4" y="470.8" font-size="7" fill="#3a3a3a">dB</text>
<circle cx="454.9" cy="468.4" r="0.9" fill="#222"/>
<rect x="460" y="464.8" width="7.4" height="6.9" fill="#34495a"/><rect x="460.9" y="466.4" width="5.6" height="1.7" fill="#b9c8d2"/><rect x="460.9" y="468.6" width="5.6" height="1.8" fill="#9fb2c0"/>
<circle cx="470" cy="468.4" r="0.9" fill="#222"/>
<rect x="474" y="464.8" width="7.2" height="6.9" fill="#2f4756"/><circle cx="477.6" cy="468.25" r="2.4" fill="#f2f5f6"/><path d="M477 467.1l1.8 1.15-1.8 1.15z" fill="#2f4756"/>
<path d="M753.1 466.8v4.2h4.6v-1.4" stroke="#22408c" stroke-width="1.2" fill="none"/><path d="M755.3 469.2l2.5-2.5" stroke="#22408c" stroke-width="1.1"/><path d="M755.5 465.8h3.3v3.3z" fill="#22408c"/>
<path d="M763.0 466.3l4.2 4.2m0-4.2l-4.2 4.2" stroke="#2a3a48" stroke-width="1.3"/>
<rect x="393" y="475.5" width="378.5" height="72.5" fill="#d9e2e5"/>
<rect x="393" y="511" width="96.2" height="1" fill="#bcc4c8"/>
<rect x="489.2" y="477.5" width="277.8" height="68.5" fill="#000"/>
<text x="397.09999999999997" y="500.2" font-size="16.5" fill="#3a3a3a" textLength="28.2" lengthAdjust="spacingAndGlyphs">Ch1</text>
<text x="397.09999999999997" y="535.2" font-size="16.5" fill="#3a3a3a" textLength="28.2" lengthAdjust="spacingAndGlyphs">Ch2</text>
<path d="M482.0 491.6h5.6l-2.8 5.6z" fill="#111"/>
<path d="M482.0 526.4h5.6l-2.8 5.6z" fill="#111"/>
<rect x="489.2" y="501" width="277.8" height="9.5" fill="#8c8c8c"/>
<rect x="489.2" y="501" width="277.8" height="9.3" fill="#00f000"/>
<rect x="492.0" y="504.65000000000003" width="272.0" height="1.7" rx="0.8" fill="#000"/>
<rect x="489.2" y="513" width="277.8" height="9.5" fill="#8c8c8c"/>
<rect x="489.2" y="513" width="277.8" height="9.3" fill="#00f000"/>
<rect x="492.0" y="516.15" width="272.0" height="1.7" rx="0.8" fill="#000"/>
<rect x="489.2" y="511" width="277.8" height="2" fill="#d6d6d6"/>
<text x="728" y="495.5" font-size="17" fill="#00e000" text-anchor="end">127.032</text>
<text x="763.5" y="495.5" font-size="17" fill="#00e000" text-anchor="end">dB</text>
<text x="728" y="539.5" font-size="17" fill="#00e000" text-anchor="end">127.031</text>
<text x="763.5" y="539.5" font-size="17" fill="#00e000" text-anchor="end">dB</text>
<rect x="393" y="547.8" width="378.5" height="3.6" fill="#b0b0b0"/>
<rect x="14" y="551" width="377" height="14" fill="#e3eaec"/>
<rect x="14" y="564.5" width="377" height="1" fill="#cdd5d8"/>
<text x="15.5" y="562.3" font-size="9.5" font-weight="bold" fill="#151515" stroke="#151515" stroke-width="0.3" textLength="42.5" lengthAdjust="spacingAndGlyphs">Frequency</text>
<rect x="61" y="552" width="33" height="11.7" fill="#ffffff"/>
<text x="63.2" y="560.8" font-size="7" fill="#3a3a3a">Hz</text>
<circle cx="90" cy="558.4" r="0.9" fill="#222"/>
<rect x="95" y="554.8" width="7.4" height="6.9" fill="#34495a"/><rect x="95.9" y="556.4" width="5.6" height="1.7" fill="#b9c8d2"/><rect x="95.9" y="558.6" width="5.6" height="1.8" fill="#9fb2c0"/>
<circle cx="105" cy="558.4" r="0.9" fill="#222"/>
<rect x="109" y="554.8" width="7.2" height="6.9" fill="#2f4756"/><circle cx="112.6" cy="558.25" r="2.4" fill="#f2f5f6"/><path d="M112 557.1l1.8 1.15-1.8 1.15z" fill="#2f4756"/>
<path d="M372.6 556.8v4.2h4.6v-1.4" stroke="#22408c" stroke-width="1.2" fill="none"/><path d="M374.8 559.2l2.5-2.5" stroke="#22408c" stroke-width="1.1"/><path d="M375 555.8h3.3v3.3z" fill="#22408c"/>
<path d="M382.5 556.3l4.2 4.2m0-4.2l-4.2 4.2" stroke="#2a3a48" stroke-width="1.3"/>
<rect x="14" y="565.5" width="377" height="72.5" fill="#d9e2e5"/>
<rect x="14" y="601" width="95" height="1" fill="#bcc4c8"/>
<rect x="109" y="567.5" width="277.5" height="68.5" fill="#000"/>
<text x="17.4" y="590.2" font-size="16.5" fill="#3a3a3a" textLength="28.2" lengthAdjust="spacingAndGlyphs">Ch1</text>
<text x="17.4" y="625.2" font-size="16.5" fill="#3a3a3a" textLength="28.2" lengthAdjust="spacingAndGlyphs">Ch2</text>
<path d="M101.8 581.6h5.6l-2.8 5.6z" fill="#111"/>
<path d="M101.8 616.4h5.6l-2.8 5.6z" fill="#111"/>
<rect x="109" y="591" width="277.5" height="9.5" fill="#8c8c8c"/>
<rect x="0.0" y="594.65" width="0.0" height="1.7" rx="0.8" fill="#000"/>
<rect x="109" y="603" width="277.5" height="9.5" fill="#8c8c8c"/>
<rect x="0.0" y="606.15" width="0.0" height="1.7" rx="0.8" fill="#000"/>
<rect x="109" y="601" width="277.5" height="2" fill="#d6d6d6"/>
<text x="334.9" y="585.5" font-size="17" fill="#00e000" text-anchor="end">1.00000</text>
<text x="383.0" y="585.5" font-size="17" fill="#00e000" text-anchor="end">kHz</text>
<text x="334.9" y="629.5" font-size="17" fill="#00e000" text-anchor="end"></text>
<text x="383.0" y="629.5" font-size="17" fill="#00e000" text-anchor="end"></text>
<rect x="390.4" y="371.5" width="2.6" height="215.5" fill="#b0b0b0"/>
<rect x="393" y="551" width="378.5" height="36" fill="#aaaaaa"/>
<rect x="394" y="552" width="377" height="1.5" fill="#737373"/><rect x="394" y="552" width="1.5" height="35" fill="#737373"/>
<rect x="771.5" y="371.5" width="4.5" height="215.5" fill="#e2e2e2"/><rect x="771" y="371.5" width="2" height="215.5" fill="#a8a8a8"/>
<rect x="0" y="587" width="790" height="21" fill="#eeeeee"/>
<rect x="13.5" y="73.5" width="762.7" height="514" fill="none" stroke="#4a80e4" stroke-width="1.2"/>
</svg></body></html>
